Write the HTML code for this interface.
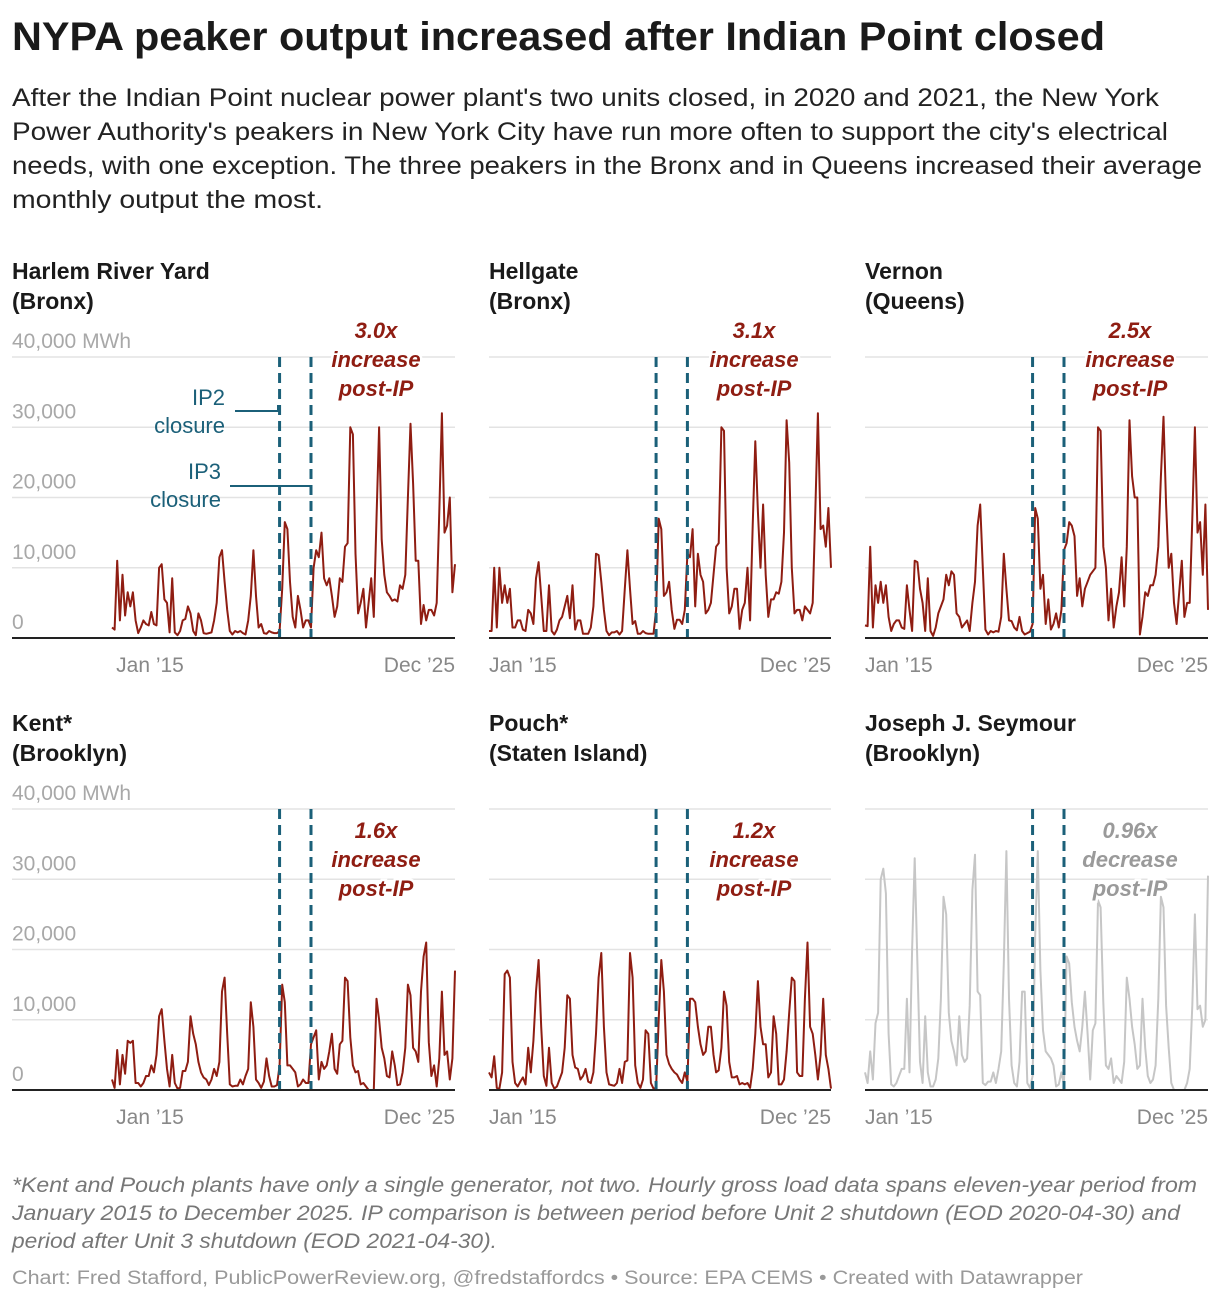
<!DOCTYPE html>
<html><head><meta charset="utf-8"><style>
html,body{margin:0;padding:0;background:#fff;}
svg{display:block;font-family:"Liberation Sans",sans-serif;}
</style></head><body>
<svg id="chart" width="1220" height="1300" viewBox="0 0 1220 1300" xmlns="http://www.w3.org/2000/svg">
<text x="12" y="50" font-size="40" font-weight="bold" fill="#1a1a1a" textLength="1093" lengthAdjust="spacingAndGlyphs">NYPA peaker output increased after Indian Point closed</text>
<g font-size="25" fill="#222">
<text x="12" y="106" textLength="1147" lengthAdjust="spacingAndGlyphs">After the Indian Point nuclear power plant's two units closed, in 2020 and 2021, the New York</text>
<text x="12" y="140" textLength="1156" lengthAdjust="spacingAndGlyphs">Power Authority's peakers in New York City have run more often to support the city's electrical</text>
<text x="12" y="174" textLength="1190" lengthAdjust="spacingAndGlyphs">needs, with one exception. The three peakers in the Bronx and in Queens increased their average</text>
<text x="12" y="208" textLength="311" lengthAdjust="spacingAndGlyphs">monthly output the most.</text>
</g>
<g id="panels"></g>
<g font-size="21" font-style="italic" fill="#777">
<text x="12" y="1192" textLength="1185" lengthAdjust="spacingAndGlyphs">*Kent and Pouch plants have only a single generator, not two. Hourly gross load data spans eleven-year period from</text>
<text x="12" y="1220" textLength="1168" lengthAdjust="spacingAndGlyphs">January 2015 to December 2025. IP comparison is between period before Unit 2 shutdown (EOD 2020-04-30) and</text>
<text x="12" y="1248" textLength="485" lengthAdjust="spacingAndGlyphs">period after Unit 3 shutdown (EOD 2021-04-30).</text>
</g>
<text x="12" y="1284" font-size="19" fill="#999" textLength="1071" lengthAdjust="spacingAndGlyphs">Chart: Fred Stafford, PublicPowerReview.org, @fredstaffordcs • Source: EPA CEMS • Created with Datawrapper</text>
</svg>
<script>
const plantNames = ["Harlem River Yard","Hellgate","Vernon","Kent*","Pouch*","Joseph J. Seymour"];
const boroughs = ["(Bronx)","(Bronx)","(Queens)","(Brooklyn)","(Staten Island)","(Brooklyn)"];
const ratios = ["3.0x","3.1x","2.5x","1.6x","1.2x","0.96x"];
const changeWords = ["increase","increase","increase","increase","increase","decrease"];
const yTicks = [0,10,20,30,40];
const yTickLabels = ["0","10,000","20,000","30,000","40,000 MWh"];
const xTickLabels = ["Jan \u201915","Dec \u201925"];
const ip2Month = 64;
const ip3Month = 76;
// monthly output, thousand MWh, Jan 2015 .. Dec 2025
const harlem = [1.5,1.2,11,2.5,9,3.2,6.5,4.5,6.5,2.5,0.7,1.5,2.5,2,1.8,3.7,2,1.8,10,10.5,5.5,5,0.8,8.5,0.8,0.4,1,2.5,2.7,4.5,3.5,1,0.4,3.5,2.5,0.7,0.6,0.7,0.8,2.5,5,11.5,12.5,8,4,1,0.5,1,0.8,1,0.7,0.5,2.5,6,12.5,6,1.5,2,0.7,0.6,1,0.8,0.7,0.7,1,7,16.5,15.5,8,3,1.5,6,4,1.5,2.5,2.5,1.5,10,12.5,11.5,15,8.5,7.5,8.5,6,3,4.5,8.5,8,13,13.5,30,29,12,3.5,5,7,1.5,5,8.5,3,17,30,14,9,6.5,6,5.3,5.5,5.2,7.5,7,9,20,30.5,22,11,11,2,4.7,2.5,4,4,3.2,5,18,32,15,16,20,6.5,10.5];
const hellgate = [1,1,10,1.5,10,5,7.5,5,7,1.5,1.5,2.5,2.5,1.2,1,4,3.5,2,8.5,10.8,6,1,1,7.5,1,0.5,1.2,2.5,3,4.5,6,2.8,7.5,1.2,2.5,2.5,0.6,0.6,0.6,1.5,4.5,12,11.8,8,4,1,0.4,0.8,0.8,1,0.5,1,7,12.5,7,2,2.4,0.6,0.6,1,0.7,0.6,0.6,0.6,4,17,15.5,6,6.5,8,4,1.3,2.6,2.6,2,4,12,11.5,15.5,4.5,12,9,8,3.5,4,5,9,13,13.5,30,29.5,10,3.5,4.5,7,7,1.3,4,5,10,2.5,16,28,18,10,19,9,3,5.5,5.5,6.5,6.3,8,15,31,25,10,3.5,4,4,2.5,4.5,4,3.5,5,18,32,15.5,16,13,18.5,10];
const vernon = [1.8,1.7,13,1.5,7.5,5,8,5,7.5,3,1,2,2.5,2.5,1.5,1.3,7.5,4,1,11,10.8,7,5,1,8.5,1,0.3,1.5,3.5,4.5,5.5,9,7.5,9.5,9,3.5,3,1.5,2,2.5,1,5,8,16,19,10,1.2,0.5,1,0.8,1,0.9,3,12,7,2.5,2.4,1.5,1.1,3,1,0.5,0.7,0.9,2,18.5,17,7,9,2,5.5,1.2,2,3.5,1.5,4,12.5,13.5,16.5,16,14.5,6,8.5,4.5,7,8,9,9.5,10,30,29.5,13,10,2.5,7,1.5,4.5,6.5,11.5,4.5,13,31,23,20,20,0.5,3,6.5,6,7.5,7.5,9,13,23,31.5,19,10,12,5,2,6.5,11,3,5,5,17,30,15,16.5,9,19,4];
const kent = [1.5,0.3,5.7,0.8,5,2.3,7,6.7,7,1,1,0.5,1,2,2,3.5,2.5,5,10.5,11.5,7,3,0.5,5,1,0.2,0.3,2.7,2.7,4,10.5,8,6.5,4,2.5,1.8,1.5,0.7,1.5,3,2,4,14,16,8,0.8,0.5,0.6,0.6,1.5,0.8,2,3,12.5,9,1.5,1,0.3,1.2,4.5,2,0.5,0.5,0.7,3.5,15,12.5,3.5,3.5,3,2.5,0.5,0.8,1.5,1,1,6.5,7.5,8.5,1.5,4,3,3.5,5.5,8,3,2.3,6.5,7,16,15.5,7.5,3.5,2.5,2.7,0.8,1,0.5,0,0,0,13,10,6,4.5,2,1.8,5.5,3.5,0.7,0.8,2.5,6,15,13.5,6,5.5,4,14,19,21,6.8,2,3.5,0.5,4.5,14,5,5.5,1.5,4.5,17];
const pouch = [2.5,1.8,4.8,0.3,0.2,2.5,16.5,17,16,4,1,0.5,1.2,1.8,0.8,6,2.5,7,14,18.5,9,2,0.6,6,1,0.2,0.5,1.5,2.5,6,13.5,13,5,3.2,3,1.5,2,3,1.2,1,2.5,8,16,19.5,9,2.5,0.8,0.7,0.6,1,3,1,4,4.2,19.5,16,3.5,1,0.3,1.5,8.5,8,1,0.2,0.3,10,18.5,14,5,3.7,3,2.5,2.2,1.5,1,2.5,1.2,13,13,12.5,9,6.5,5,5.5,9,9,5,2.5,2.8,6,14,12,4,1.8,1.8,2,0.8,1,0.8,1,0.3,3,8,15.5,9,6.5,6.5,1.8,2.5,10.5,8,0.8,0.8,1.5,5.5,11,16,15.5,2.5,2,2,13,21,9,8,5,1.5,5,13,5,3,0.2];
const seymour = [2.5,1,5.5,1.5,9.5,11,30,31.5,28,8,0.8,0.5,1,2,3,3,13,2.5,20,33,18,4,1,10.5,2.5,0.5,0.5,1.5,4.5,13,27.5,25,11,7,5.5,3.5,10.5,5,4,4.5,12,28.5,33.5,14,13.5,1,0.7,1.2,1.2,2.5,1,3,5.5,18,34,13,3.5,1,0.5,4,14,14,1,0.3,2,22,34,17,8.5,5.5,5,4.5,3.5,0.5,0.8,2.5,0.7,19,18,12.5,9,7,5.5,9,14,8,1.5,8.5,9.5,27,26,12.5,3.5,3,4.5,1,2,1.5,1,4,16,13,9,6.5,3,3.5,13,6,2,1,1.5,3.5,13,27.5,26,12,6,1,0,0,0,0,0,1,3,12,25,11.5,12,9,10,30.5];
const seriesList = [harlem,hellgate,vernon,kent,pouch,seymour];

const NS="http://www.w3.org/2000/svg";
const root=document.getElementById('panels');
function mk(tag,attrs,parent){const e=document.createElementNS(NS,tag);for(const k in attrs)e.setAttribute(k,attrs[k]);(parent||root).appendChild(e);return e;}
const cols=[{gx0:12,dx0:112,x1:455},{gx0:489,dx0:489,x1:831},{gx0:865,dx0:865,x1:1208}];
const rows=[{top:357,bottom:638,title:279,ann:338},{top:809,bottom:1090,title:731,ann:838}];
seriesList.forEach((data,p)=>{
  const c=cols[p%3], r=rows[Math.floor(p/3)];
  const g=mk('g',{});
  
  
  const y=v=>r.bottom-(v/40)*(r.bottom-r.top);
  const x=i=>c.dx0+i*(c.x1-c.dx0)/(data.length-1);
  const t1=mk('text',{x:c.gx0,y:r.title,'font-size':23,'font-weight':'bold',fill:'#1a1a1a'},g);t1.textContent=plantNames[p];
  
  
  const t2=mk('text',{x:c.gx0,y:r.title+30,'font-size':23,'font-weight':'bold',fill:'#1a1a1a'},g);t2.textContent=boroughs[p];
  
  
  yTicks.forEach((v,k)=>{
    if(v>0){const gl=mk('line',{x1:c.gx0,x2:c.x1,y1:y(v),y2:y(v),stroke:'#e3e3e3','stroke-width':1.5},g);
      
      }
    if(p%3===0){const tl=mk('text',{x:12,y:y(v)-9,'font-size':21,fill:'#a8a8a8'},g);tl.textContent=yTickLabels[k];
      
      }
  });
  const xl1=mk('text',{x:x(0)+(p%3===0?38:0),y:r.bottom+34,'font-size':21,fill:'#888','text-anchor':p%3===0?'middle':'start'},g);xl1.textContent=xTickLabels[0];
  
  
  const xl2=mk('text',{x:c.x1,y:r.bottom+34,'font-size':21,fill:'#888','text-anchor':'end'},g);xl2.textContent=xTickLabels[1];
  
  
  const pts=data.map((v,i)=>x(i).toFixed(1)+','+y(v).toFixed(1)).join(' ');
  const ln=mk('polyline',{points:pts,fill:'none',stroke:p===5?'#c6c6c6':'#8f1d12','stroke-width':2,'stroke-linejoin':'round'},g);
  
  
  [ip2Month,ip3Month].forEach((m,k)=>{
    const d=mk('line',{x1:x(m),x2:x(m),y1:r.top,y2:r.bottom,stroke:'#1b6079','stroke-width':3,'stroke-dasharray':'10,6'},g);
    
    
  });
  const ax=mk('line',{x1:c.gx0,x2:c.x1,y1:r.bottom,y2:r.bottom,stroke:'#222','stroke-width':2},g);
  
  
  const cx=[376,754,1130][p%3];
  const col=p===5?'#9a9a9a':'#8f1d12';
  const ann=mk('g',{'font-size':22,'font-weight':'bold','font-style':'italic',fill:col,'text-anchor':'middle',stroke:'#fff','stroke-width':5,'paint-order':'stroke'},g);
  
  
  [ratios[p],changeWords[p],'post-IP'].forEach((s,k)=>{const t=mk('text',{x:cx,y:r.ann+k*29},ann);t.textContent=s;});
});
// IP labels in first panel
const lab=mk('g',{'font-size':22,fill:'#1b6079','text-anchor':'end'});


[["IP2",225,405],["closure",225,433],["IP3",221,479],["closure",221,507]].forEach(a=>{const t=mk('text',{x:a[1],y:a[2]},lab);t.textContent=a[0];});
mk('polyline',{points:'235,411 278,411 278,405',fill:'none',stroke:'#1b6079','stroke-width':2},lab);
mk('line',{x1:230,x2:310,y1:486,y2:486,stroke:'#1b6079','stroke-width':2},lab);
</script>
</body></html>
